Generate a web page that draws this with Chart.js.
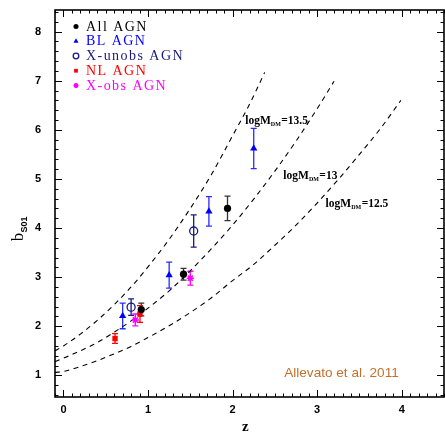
<!DOCTYPE html>
<html>
<head>
<meta charset="utf-8">
<script src="https://cdn.jsdelivr.net/npm/chart.js@4.4.0/dist/chart.umd.min.js"></script>
<style>
html,body{margin:0;padding:0;background:#fff;overflow:hidden;}
canvas{display:block;}
</style>
</head>
<body>
<canvas id="biasChart" width="445" height="433"></canvas>
<script>
// axis ticks
const xTicks=[0,1,2,3,4];
const yTicks=[1,2,3,4,5,6,7,8];

// dashed model curves b(z)
const curve135Z=[-0.1,0,0.2,0.4,0.6,0.8,1.0,1.25,1.5,1.75,2.0,2.2,2.38];
const curve135B=[1.50,1.60,1.84,2.12,2.44,2.80,3.21,3.77,4.40,5.09,5.88,6.52,7.17];
const curve13Z=[-0.1,0,0.2,0.4,0.6,0.8,1.0,1.25,1.5,1.75,2.0,2.25,2.5,2.75,3.0,3.2];
const curve13B=[1.28,1.35,1.50,1.67,1.88,2.11,2.37,2.72,3.13,3.58,4.06,4.59,5.16,5.77,6.43,6.99];
const curve125Z=[-0.1,0,0.2,0.4,0.6,0.8,1.0,1.25,1.5,1.75,2.0,2.25,2.5,2.75,3.0,3.25,3.5,3.75,3.99];
const curve125B=[1.06,1.08,1.18,1.30,1.44,1.59,1.77,2.01,2.28,2.58,2.93,3.26,3.65,4.06,4.51,4.99,5.50,6.03,6.60];
const curveLabels=['13.5','13','12.5'];

// measurements: redshift, bias, error
const allZ=[0.92,1.42,1.94], allB=[2.34,3.06,4.40], allErr=[0.13,0.12,0.25];
const blZ=[0.70,1.25,1.72,2.25], blB=[2.21,3.04,4.34,5.62], blErr=[0.26,0.265,0.30,0.41];
const unobsZ=[0.80,1.54], unobsB=[2.39,3.94], unobsErr=[0.17,0.33];
const nlZ=[0.61,0.905], nlB=[1.75,2.25], nlErr=[0.10,0.17];
const obsZ=[0.85,1.50], obsB=[2.13,2.98], obsErr=[0.12,0.14];

const seriesNames=['All AGN','BL AGN','X-unobs AGN','NL AGN','X-obs AGN'];

function pts(xs,ys){ return xs.map((v,i)=>({x:v,y:ys[i]})); }

function curve(xs,ys){
  return {data:pts(xs,ys), showLine:true, borderColor:'#000', borderWidth:1.1, borderDash:[5,4.5],
    pointRadius:0, cubicInterpolationMode:'monotone', order:2};
}

const markerSets=[
  {label:seriesNames[0], data:pts(allZ,allB), errors:allErr, pointStyle:'circle', pointRadius:3.6,
    backgroundColor:'#000', borderColor:'#000', borderWidth:0, barColor:'#333', order:1},
  {label:seriesNames[1], data:pts(blZ,blB), errors:blErr, pointStyle:'triangle', pointRadius:4.2,
    backgroundColor:'#0000ff', borderColor:'#0000ff', borderWidth:0, barColor:'#2a2aff', order:1},
  {label:seriesNames[2], data:pts(unobsZ,unobsB), errors:unobsErr, pointStyle:'circle', pointRadius:4,
    backgroundColor:'rgba(255,255,255,0)', borderColor:'#1a1a80', borderWidth:1.3, barColor:'#1a1a80', order:1},
  {label:seriesNames[3], data:pts(nlZ,nlB), errors:nlErr, pointStyle:'rect', pointRadius:3.8,
    backgroundColor:'#ff0000', borderColor:'#ff0000', borderWidth:0, barColor:'#ff0000', order:1},
  {label:seriesNames[4], data:pts(obsZ,obsB), errors:obsErr, pointStyle:'star', pointRadius:3.6,
    backgroundColor:'#ff00ff', borderColor:'#ff00ff', borderWidth:1.5, barColor:'#ff00ff', order:1}
];
const legendColors=['#000','#0000ff','#1a1a80','#ff0000','#ff00ff'];

const errorBars={
  id:'errorBars',
  beforeDatasetsDraw(chart){
    const ctx=chart.ctx, y=chart.scales.y;
    chart.data.datasets.forEach((ds,i)=>{
      if(!ds.errors) return;
      const meta=chart.getDatasetMeta(i);
      ctx.save();
      ctx.strokeStyle=ds.barColor;
      ctx.lineWidth=1.3;
      meta.data.forEach((el,j)=>{
        const v=ds.data[j].y, e=ds.errors[j];
        const top=y.getPixelForValue(v+e), bot=y.getPixelForValue(v-e);
        ctx.beginPath();
        ctx.moveTo(el.x,top); ctx.lineTo(el.x,bot);
        ctx.moveTo(el.x-3,top); ctx.lineTo(el.x+3,top);
        ctx.moveTo(el.x-3,bot); ctx.lineTo(el.x+3,bot);
        ctx.stroke();
      });
      ctx.restore();
    });
  }
};

function drawLogM(ctx,x,y,val){
  ctx.font='bold 11.5px "Liberation Serif"';
  ctx.fillText('logM',x,y);
  let w=ctx.measureText('logM').width;
  ctx.font='bold 6px "Liberation Serif"';
  ctx.fillText('DM',x+w,y+2);
  w+=ctx.measureText('DM').width+0.5;
  ctx.font='bold 11.5px "Liberation Serif"';
  ctx.fillText('='+val,x+w,y);
}

const frameAndText={
  id:'frameAndText',
  afterDraw(chart){
    const {ctx,chartArea:a,scales:{x,y}}=chart;
    ctx.save();
    ctx.strokeStyle='#000';
    ctx.lineWidth=1;
    ctx.beginPath();
    for(let i=-1;i<=45;i++){
      const px=Math.round(x.getPixelForValue(i/10))+0.5;
      const len=(i%10===0)?7:3.5;
      ctx.moveTo(px,a.bottom); ctx.lineTo(px,a.bottom-len);
      ctx.moveTo(px,a.top); ctx.lineTo(px,a.top+len);
    }
    for(let i=3;i<=42;i++){
      const py=Math.round(y.getPixelForValue(i/5))+0.5;
      const len=(i%5===0)?7:3.5;
      ctx.moveTo(a.left,py); ctx.lineTo(a.left+len,py);
      ctx.moveTo(a.right,py); ctx.lineTo(a.right-len,py);
    }
    ctx.stroke();
    ctx.lineWidth=1.6;
    ctx.strokeRect(a.left,a.top,a.right-a.left,a.bottom-a.top);

    // curve labels
    ctx.fillStyle='#000';
    ctx.textBaseline='alphabetic';
    ctx.textAlign='left';
    drawLogM(ctx,x.getPixelForValue(2.15),y.getPixelForValue(6.11),curveLabels[0]);
    drawLogM(ctx,x.getPixelForValue(2.6),y.getPixelForValue(4.99),curveLabels[1]);
    drawLogM(ctx,x.getPixelForValue(3.1),y.getPixelForValue(4.42),curveLabels[2]);

    // credit
    ctx.fillStyle='#c4702c';
    ctx.font='13.6px "Liberation Sans"';
    ctx.fillText('Allevato et al. 2011',x.getPixelForValue(2.61),y.getPixelForValue(0.96));

    // legend
    const lx=a.left+21, tx=a.left+31;
    markerSets.forEach((ds,i)=>{
      const cy=a.top+16.5+i*14.75;
      ctx.fillStyle=ds.backgroundColor;
      ctx.strokeStyle=ds.borderColor;
      ctx.lineWidth=ds.borderWidth||1;
      Chart.helpers.drawPoint(ctx,{pointStyle:ds.pointStyle,radius:ds.pointRadius*0.7,rotation:0,borderWidth:ds.borderWidth},lx,cy);
      ctx.fillStyle=legendColors[i];
      ctx.font='14px "Liberation Serif"';
      ctx.letterSpacing='1.45px';
      ctx.textBaseline='middle';
      ctx.fillText(ds.label,tx,cy+0.5);
    });
    ctx.letterSpacing='0px';

    // axis titles
    ctx.fillStyle='#000';
    ctx.textBaseline='alphabetic';
    ctx.textAlign='center';
    ctx.font='bold 15px "Liberation Serif"';
    ctx.fillText('z',x.getPixelForValue(2.15),431);

    ctx.save();
    ctx.translate(23,241);
    ctx.rotate(-Math.PI/2);
    ctx.textAlign='left';
    ctx.font='16px "Liberation Serif"';
    ctx.fillText('b',0,0);
    const bw=ctx.measureText('b').width;
    ctx.font='bold 9px "Liberation Sans"';
    ctx.fillText('S01',bw+0.5,3.5);
    ctx.restore();
    ctx.restore();
  }
};

function noPad(s){ s.paddingTop=0; s.paddingBottom=0; s.paddingLeft=0; s.paddingRight=0; }

const tickFont={family:'"Liberation Sans"', size:11, weight:'bold'};

new Chart(document.getElementById('biasChart'),{
  type:'scatter',
  data:{datasets:[...markerSets,
    curve(curve135Z,curve135B),
    curve(curve13Z,curve13B),
    curve(curve125Z,curve125B)]},
  options:{
    responsive:false,
    animation:false,
    events:[],
    layout:{autoPadding:false,padding:{top:10,right:1,left:0,bottom:0}},
    plugins:{legend:{display:false},tooltip:{enabled:false}},
    scales:{
      x:{type:'linear',min:-0.1,max:4.5,
        afterBuildTicks:s=>{s.ticks=xTicks.map(v=>({value:v}));},
        afterFit:s=>{s.height=36; noPad(s);},
        grid:{display:false,drawTicks:false},border:{display:false},
        ticks:{font:tickFont,color:'#000',padding:6,maxRotation:0,autoSkip:false}},
      y:{type:'linear',min:0.56,max:8.44,
        afterBuildTicks:s=>{s.ticks=yTicks.map(v=>({value:v}));},
        afterFit:s=>{s.width=55; noPad(s);},
        grid:{display:false,drawTicks:false},border:{display:false},
        ticks:{font:tickFont,color:'#000',padding:14,autoSkip:false}}
    }
  },
  plugins:[errorBars,frameAndText]
});
</script>
</body>
</html>
